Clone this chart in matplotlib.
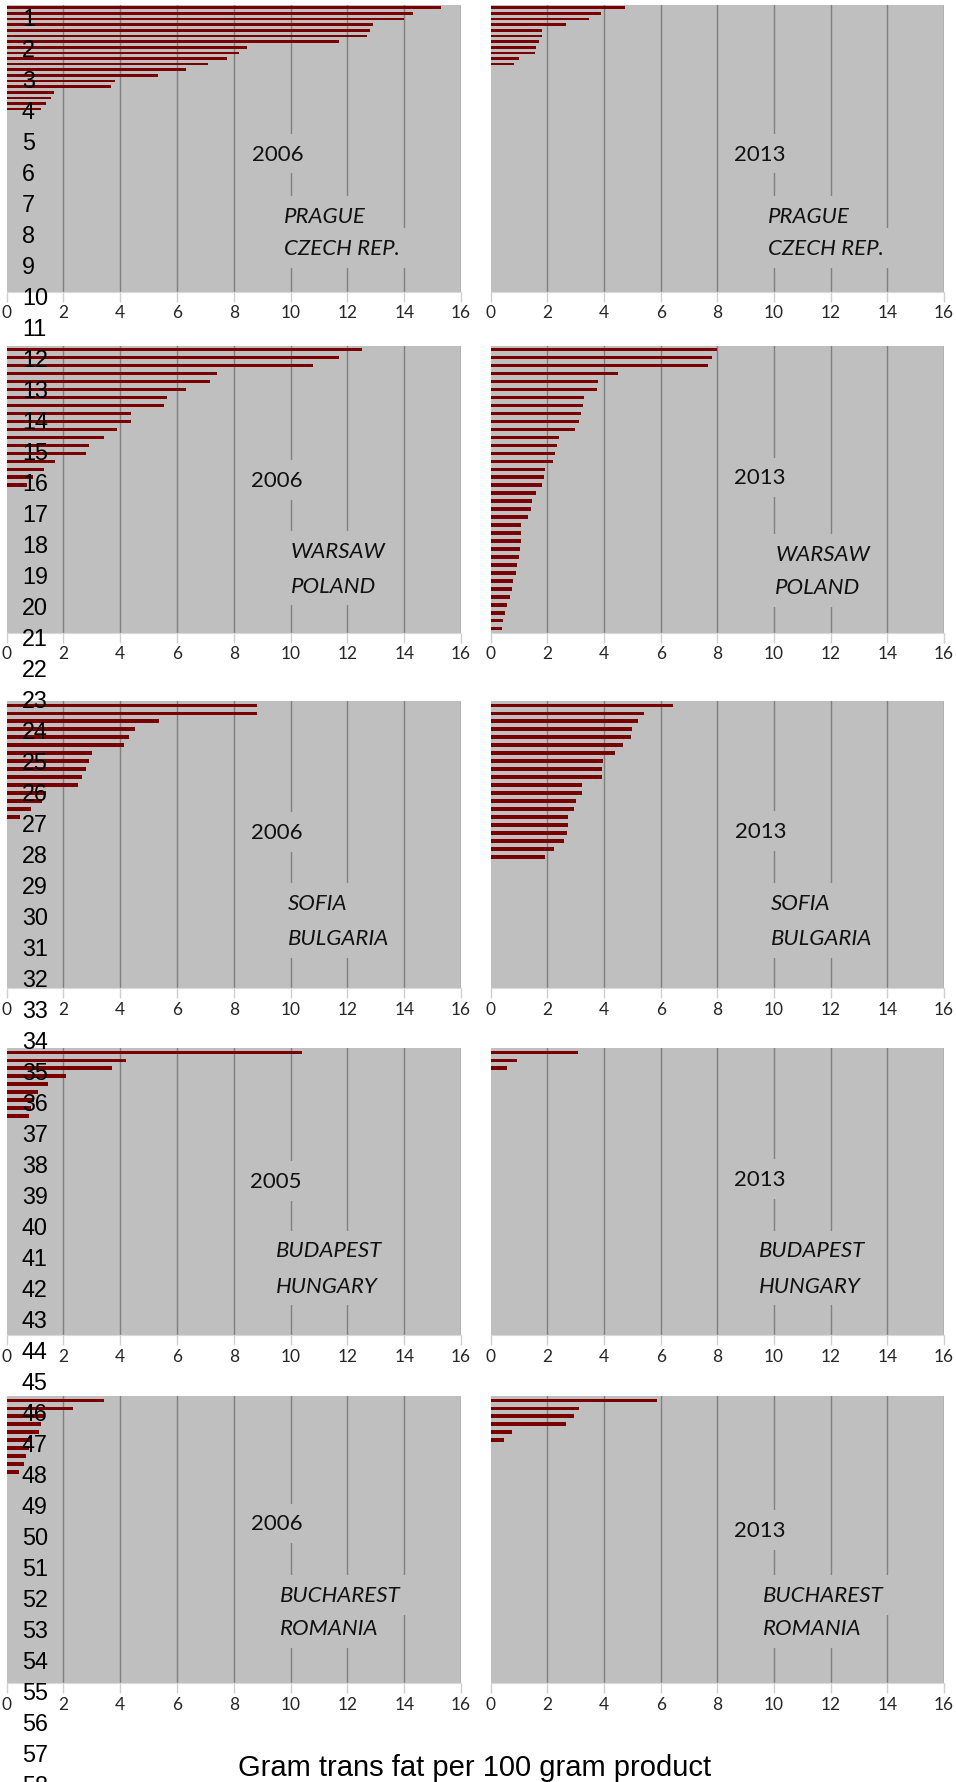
#!/usr/bin/env python3
"""Trans fat content of products, 2005/06 vs 2013, in five capitals."""

import matplotlib
matplotlib.use("Agg")
import matplotlib.pyplot as plt
import numpy as np

# grams trans fat per 100 g, one list per city and survey year (sorted high to low)
prague_2006 = [15.29, 14.30, 13.99, 12.89, 12.79, 12.69, 11.69, 8.45, 8.17, 7.77,
               7.08, 6.30, 5.33, 3.80, 3.66, 1.68, 1.56, 1.37, 1.20]
prague_2013 = [4.75, 3.89, 3.46, 2.67, 1.81, 1.80, 1.69, 1.60, 1.55, 1.01, 0.81]

warsaw_2006 = [12.50, 11.70, 10.80, 7.39, 7.16, 6.30, 5.65, 5.55, 4.37, 4.37,
               3.90, 3.43, 2.89, 2.78, 1.71, 1.33, 0.92, 0.70]
warsaw_2013 = [7.99, 7.80, 7.67, 4.49, 3.80, 3.75, 3.28, 3.26, 3.19, 3.11,
               2.96, 2.41, 2.33, 2.28, 2.19, 1.92, 1.87, 1.82, 1.61, 1.47,
               1.44, 1.31, 1.08, 1.08, 1.07, 1.04, 0.99, 0.94, 0.91, 0.79,
               0.74, 0.68, 0.56, 0.49, 0.42, 0.41]

sofia_2006 = [8.80, 8.80, 5.36, 4.53, 4.30, 4.13, 3.00, 2.89, 2.78, 2.65,
              2.52, 1.40, 1.25, 0.85, 0.47]
sofia_2013 = [6.42, 5.42, 5.20, 4.98, 4.94, 4.66, 4.39, 3.96, 3.94, 3.92,
              3.24, 3.21, 3.00, 2.95, 2.74, 2.72, 2.69, 2.59, 2.25, 1.93]

budapest_2005 = [10.39, 4.20, 3.71, 2.10, 1.44, 1.11, 0.95, 0.85, 0.79]
budapest_2013 = [3.09, 0.94, 0.59]

bucharest_2006 = [3.44, 2.32, 1.30, 1.20, 1.14, 0.90, 0.80, 0.67, 0.61, 0.43]
bucharest_2013 = [5.86, 3.13, 2.93, 2.65, 0.75, 0.47]

cities = ["PRAGUE\nCZECH REP.", "WARSAW\nPOLAND", "SOFIA\nBULGARIA",
          "BUDAPEST\nHUNGARY", "BUCHAREST\nROMANIA"]
years_left = ["2006", "2006", "2006", "2005", "2006"]
years_right = ["2013", "2013", "2013", "2013", "2013"]
series_left = [prague_2006, warsaw_2006, sofia_2006, budapest_2005, bucharest_2006]
series_right = [prague_2013, warsaw_2013, sofia_2013, budapest_2013, bucharest_2013]
slots = [51, 36, 36, 36, 36]          # product rows per panel

row_numbers = list(range(1, 59))
x_ticks = list(range(0, 17, 2))
x_label = "Gram trans fat per 100 gram product"

W, H = 956, 1783
BG = "#bfbfbf"
BAR = "#7a0000"
LABEL_FONT = "Lato"
ARIAL = "Liberation Sans"

# layout in pixels
row_tops = [6, 346.7, 702.3, 1049.3, 1397.3]
panel_h = 287
col_x = [(6.7, 454.3), (490.7, 453.3)]

# text placement: (year x, year y), (city x, line1 y, line2 y) in data x / axes y
year_pos = [[(9.55, 0.482), (9.5, 0.482)],
            [(9.53, 0.533), (9.48, 0.541)],
            [(9.53, 0.544), (9.52, 0.548)],
            [(9.49, 0.537), (9.48, 0.545)],
            [(9.53, 0.557), (9.48, 0.534)]]
city_pos = [[(9.76, 0.265, 0.153), (9.8, 0.265, 0.153)],
            [(10.0, 0.286, 0.164), (10.04, 0.274, 0.158)],
            [(9.89, 0.298, 0.175), (9.9, 0.298, 0.175)],
            [(9.49, 0.2955, 0.173), (9.48, 0.2955, 0.173)],
            [(9.61, 0.308, 0.193), (9.6, 0.308, 0.193)]]

fig = plt.figure(figsize=(W / 100, H / 100), dpi=100)


def panel(rect_px, values, n, year, city, ypos, cpos):
    x0, w = rect_px[0], rect_px[1]
    top = rect_px[2]
    ax = fig.add_axes([x0 / W, 1 - (top + panel_h) / H, w / W, panel_h / H])
    ax.set_facecolor(BG)
    pos = np.arange(len(values))
    ax.barh(pos, values, height=0.44 if n == 36 else 0.47, color=BAR, zorder=2)
    ax.set_xlim(0, 16)
    ax.set_ylim(n - 0.5, -0.5)
    ax.set_yticks([])
    ax.set_xticks(x_ticks)
    ax.set_xticklabels([str(t) for t in x_ticks], fontsize=12.5,
                       family=LABEL_FONT, color="#262626")
    ax.tick_params(axis="x", direction="out", length=7, width=1,
                   color="#cfcfcf", pad=2)
    ax.xaxis.grid(True, color="#808080", lw=1)
    ax.get_xgridlines()[0].set_visible(False)
    ax.set_axisbelow(True)
    for s in ("top", "left", "right"):
        ax.spines[s].set_visible(False)
    ax.spines["bottom"].set_color("#d9d9d9")

    tr = ax.get_xaxis_transform()
    box = dict(facecolor=BG, edgecolor="none", pad=7)
    ax.text(ypos[0], ypos[1], year, transform=tr, ha="center", va="center",
            fontsize=16, family=LABEL_FONT, color="#111111", bbox=box, zorder=3)
    line1, line2 = city.split("\n")
    for txt, yy in ((line1, cpos[1]), (line2, cpos[2])):
        ax.text(cpos[0], yy, txt, transform=tr, ha="left", va="center",
                fontsize=16, family=LABEL_FONT, style="italic",
                color="#111111", bbox=box, zorder=3)
    return ax


for i in range(5):
    for j, (vals, year) in enumerate(((series_left[i], years_left[i]),
                                      (series_right[i], years_right[i]))):
        cx, cw = col_x[j]
        panel((cx, cw, row_tops[i]), vals, slots[i], year, cities[i],
              year_pos[i][j], city_pos[i][j])

# running row numbers down the left edge, drawn over the panels
pitch, first = 31.0, 17.3
ext = 1.06
ax_n = fig.add_axes([21 / W, 1 - ext, 0.001, ext], zorder=5)
ax_n.patch.set_visible(False)
ax_n.set_ylim(1 + (ext * H - first) / pitch, 1 - first / pitch)
ax_n.set_xticks([])
ax_n.yaxis.tick_right()
ax_n.set_yticks(row_numbers)
ax_n.set_yticklabels([str(n) for n in row_numbers], fontsize=16.8,
                     family=ARIAL, color="black")
ax_n.tick_params(axis="y", length=0, pad=0)
for s in ax_n.spines.values():
    s.set_visible(False)

fig.text(475 / W, 1 - 1767.6 / H, x_label, ha="center", va="center",
         fontsize=21, family=ARIAL, color="black")

fig.savefig("out.png", dpi=100)
